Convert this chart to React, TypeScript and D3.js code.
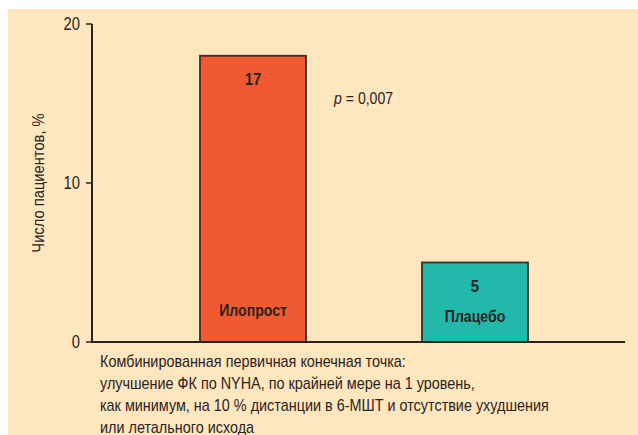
import React from "react";
import * as d3 from "d3";

const categories = ["Илопрост", "Плацебо"];
const values = [18, 5];
const valueLabels = ["17", "5"];
const barColors = ["#F15A30", "#22B9AB"];
const yTicks = [0, 10, 20];
const yLabel = "Число пациентов, %";
const pLabel = "0,007";
const captionLines = [
  "Комбинированная первичная конечная точка:",
  "улучшение ФК по NYHA, по крайней мере на 1 уровень,",
  "как минимум, на 10 % дистанции в 6-МШТ и отсутствие ухудшения",
  "или летального исхода",
];

const W = 638;
const H = 435;
const font = "'Liberation Sans', Arial, sans-serif";
const ink = "#2b2320";
const SX = 0.88;

function T(props: any) {
  const { x, y, sx = SX, children, ...rest } = props;
  return (
    <text transform={`translate(${x},${y}) scale(${sx},1)`} {...rest}>
      {children}
    </text>
  );
}

export default function App() {
  const x0 = 92;
  const x1 = 625;
  const y = d3.scaleLinear().domain([0, 20]).range([342, 24]);
  const x = d3
    .scaleBand<string>()
    .domain(categories)
    .range([89, 639])
    .paddingInner(0.5225)
    .paddingOuter(0.5);
  return (
    <svg
      width={W}
      height={H}
      style={{ position: "absolute", left: 0, top: 0 }}
      fontFamily={font}
    >
      <rect x={0} y={0} width={W} height={H} fill="#ffffff" />
      <rect x={8} y={9} width={W - 8} height={H - 9} fill="#FEE6BF" />
      {categories.map((c, i) => {
        const bx = x(c)!;
        const bw = x.bandwidth();
        const top = y(values[i]);
        const cx = bx + bw / 2;
        return (
          <g key={c}>
            <rect
              x={bx}
              y={top}
              width={bw}
              height={y(0) - top}
              fill={barColors[i]}
              stroke="#3a2e2a"
              strokeWidth={1.8}
            />
            <T
              x={cx}
              y={top + 29}
              textAnchor="middle"
              fontWeight="bold"
              fontSize={17}
              fill={ink}
            >
              {valueLabels[i]}
            </T>
            <T
              x={cx}
              y={y(0) - (i === 0 ? 26 : 20)}
              textAnchor="middle"
              fontWeight="bold"
              fontSize={16}
              fill={ink}
            >
              {c}
            </T>
          </g>
        );
      })}
      <line x1={x0} x2={x0} y1={y(20)} y2={y(0) + 1} stroke={ink} strokeWidth={2} />
      <line x1={x0 - 1} x2={x1} y1={y(0)} y2={y(0)} stroke={ink} strokeWidth={2} />
      {yTicks.map((t) => (
        <g key={t}>
          <line x1={x0 - 6} x2={x0} y1={y(t)} y2={y(t)} stroke={ink} strokeWidth={1.5} />
          <T
            x={x0 - 12}
            y={y(t)}
            dy="0.35em"
            textAnchor="end"
            fontSize={18}
            sx={0.82}
            fill={ink}
          >
            {t}
          </T>
        </g>
      ))}
      <text
        transform={`translate(44, ${(y(0) + y(20)) / 2}) rotate(-90) scale(0.92,1)`}
        textAnchor="middle"
        fontSize={16}
        fill={ink}
      >
        {yLabel}
      </text>
      <T x={334} y={104} fontSize={16} fill={ink}>
        <tspan fontStyle="italic">p</tspan>
        {" = " + pLabel}
      </T>
      {captionLines.map((l, i) => (
        <T key={i} x={100} y={367 + i * 22} fontSize={16} sx={0.9} fill={ink}>
          {l}
        </T>
      ))}
    </svg>
  );
}
